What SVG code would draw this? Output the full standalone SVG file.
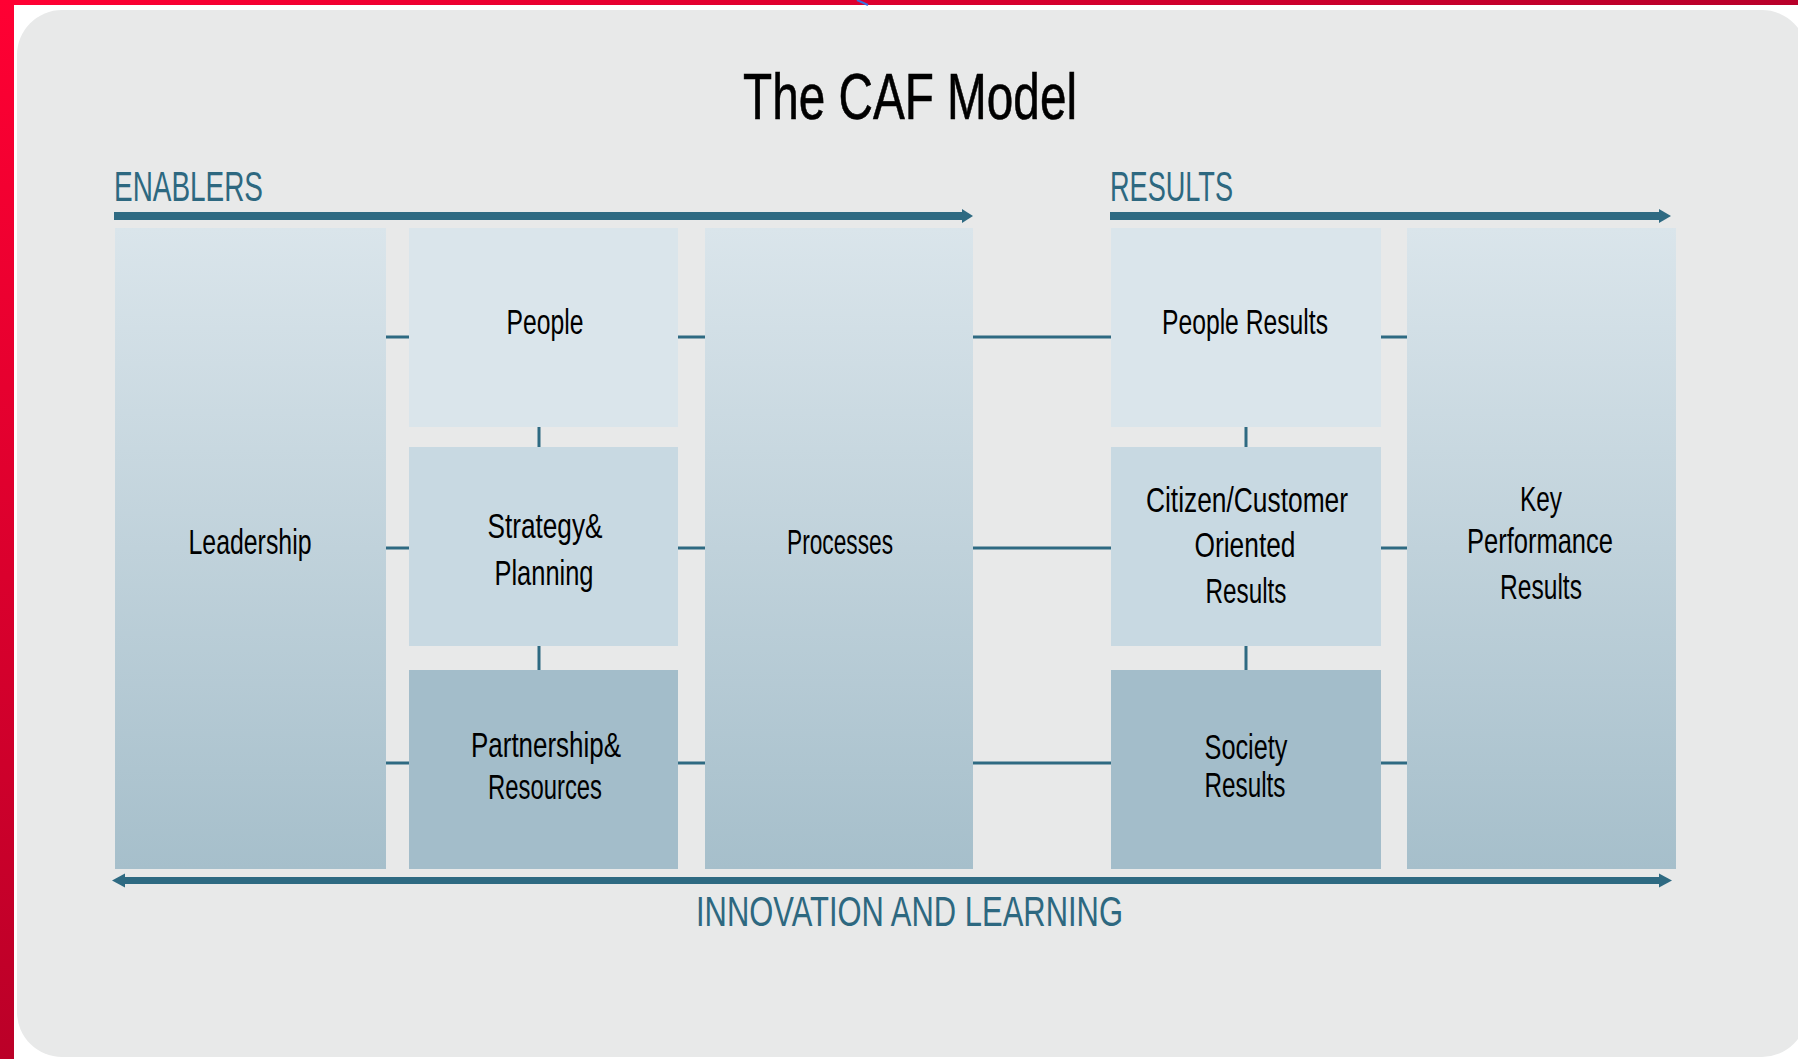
<svg xmlns="http://www.w3.org/2000/svg" width="1798" height="1059" viewBox="0 0 1798 1059">
<defs>
<linearGradient id="tall" x1="0" y1="0" x2="0" y2="1">
<stop offset="0" stop-color="#dae5eb"/>
<stop offset="1" stop-color="#a6bfcb"/>
</linearGradient>
<linearGradient id="redTop" x1="0" y1="0" x2="1" y2="0">
<stop offset="0" stop-color="#ff0033"/>
<stop offset="1" stop-color="#b8002a"/>
</linearGradient>
<linearGradient id="redLeft" x1="0" y1="0" x2="0" y2="1">
<stop offset="0" stop-color="#ff0033"/>
<stop offset="1" stop-color="#bb0028"/>
</linearGradient>
<style>
.lbl{font-family:"Liberation Sans",Arial,sans-serif;font-size:35px;fill:#000;text-anchor:middle}
.sec{font-family:"Liberation Sans",Arial,sans-serif;font-size:42px;fill:#2d6880}
.title{font-family:"Liberation Sans",Arial,sans-serif;font-size:64px;fill:#000;text-anchor:middle;stroke:#000;stroke-width:0.6}
.con{stroke:#2e6a82;stroke-width:3;fill:none}
.bar{fill:#2e6a82}
.light{fill:#dae5eb}
.mid{fill:#c8d9e2}
.dark{fill:#a3bdca}
.tall{fill:url(#tall)}
</style>
</defs>
<rect x="0" y="0" width="1798" height="1059" fill="#ffffff"/>
<rect x="0" y="0" width="1798" height="5" fill="url(#redTop)"/>
<rect x="0" y="0" width="14" height="1059" fill="url(#redLeft)"/>
<line x1="857" y1="0" x2="868" y2="5" stroke="#3a6fe0" stroke-width="2"/>
<rect x="17" y="10" width="1790" height="1047" rx="45" ry="45" fill="#e8e9e9"/>

<text class="title" x="910" y="119" textLength="334" lengthAdjust="spacingAndGlyphs">The CAF Model</text>

<g id="section-labels">
<text class="sec" x="114" y="201" textLength="149" lengthAdjust="spacingAndGlyphs">ENABLERS</text>
<text class="sec" x="1110" y="201" textLength="123" lengthAdjust="spacingAndGlyphs">RESULTS</text>
<text class="sec" x="696" y="926" textLength="427" lengthAdjust="spacingAndGlyphs">INNOVATION AND LEARNING</text>
</g>

<g id="connectors">
<rect class="bar" x="114" y="212" width="852" height="8"/>
<polygon class="bar" points="962,209 973,216 962,223"/>
<rect class="bar" x="1110" y="212" width="552" height="8"/>
<polygon class="bar" points="1659,209 1671,216 1659,223"/>
<rect class="bar" x="122" y="877" width="1540" height="7"/>
<polygon class="bar" points="125,873.5 112,880.5 125,887.5"/>
<polygon class="bar" points="1659,873.5 1672,880.5 1659,887.5"/>
<path class="con" d="M386 337H409 M678 337H705 M973 337H1111 M1381 337H1407"/>
<path class="con" d="M386 548H409 M678 548H705 M973 548H1111 M1381 548H1407"/>
<path class="con" d="M386 763H409 M678 763H705 M973 763H1111 M1381 763H1407"/>
<path class="con" d="M539 427V447 M539 646V670 M1246 427V447 M1246 646V670"/>
</g>

<g id="leadership">
<rect class="tall" x="115" y="228" width="271" height="641"/>
<text class="lbl" x="250" y="554" textLength="123" lengthAdjust="spacingAndGlyphs">Leadership</text>
</g>
<g id="people">
<rect class="light" x="409" y="228" width="269" height="199"/>
<text class="lbl" x="545" y="334" textLength="77" lengthAdjust="spacingAndGlyphs">People</text>
</g>
<g id="strategy">
<rect class="mid" x="409" y="447" width="269" height="199"/>
<text class="lbl" x="545" y="538" textLength="115" lengthAdjust="spacingAndGlyphs">Strategy&amp;</text>
<text class="lbl" x="544" y="585" textLength="99" lengthAdjust="spacingAndGlyphs">Planning</text>
</g>
<g id="partnership">
<rect class="dark" x="409" y="670" width="269" height="199"/>
<text class="lbl" x="546" y="757" textLength="150" lengthAdjust="spacingAndGlyphs">Partnership&amp;</text>
<text class="lbl" x="545" y="799" textLength="114" lengthAdjust="spacingAndGlyphs">Resources</text>
</g>
<g id="processes">
<rect class="tall" x="705" y="228" width="268" height="641"/>
<text class="lbl" x="840" y="554" textLength="106" lengthAdjust="spacingAndGlyphs">Processes</text>
</g>
<g id="people-results">
<rect class="light" x="1111" y="228" width="270" height="199"/>
<text class="lbl" x="1245" y="334" textLength="166" lengthAdjust="spacingAndGlyphs">People Results</text>
</g>
<g id="citizen-results">
<rect class="mid" x="1111" y="447" width="270" height="199"/>
<text class="lbl" x="1247" y="512" textLength="202" lengthAdjust="spacingAndGlyphs">Citizen/Customer</text>
<text class="lbl" x="1245" y="557" textLength="101" lengthAdjust="spacingAndGlyphs">Oriented</text>
<text class="lbl" x="1246" y="603" textLength="81" lengthAdjust="spacingAndGlyphs">Results</text>
</g>
<g id="society-results">
<rect class="dark" x="1111" y="670" width="270" height="199"/>
<text class="lbl" x="1246" y="759" textLength="83" lengthAdjust="spacingAndGlyphs">Society</text>
<text class="lbl" x="1245" y="797" textLength="81" lengthAdjust="spacingAndGlyphs">Results</text>
</g>
<g id="key-performance-results">
<rect class="tall" x="1407" y="228" width="269" height="641"/>
<text class="lbl" x="1541" y="511" textLength="42" lengthAdjust="spacingAndGlyphs">Key</text>
<text class="lbl" x="1540" y="553" textLength="146" lengthAdjust="spacingAndGlyphs">Performance</text>
<text class="lbl" x="1541" y="599" textLength="82" lengthAdjust="spacingAndGlyphs">Results</text>
</g>
</svg>
